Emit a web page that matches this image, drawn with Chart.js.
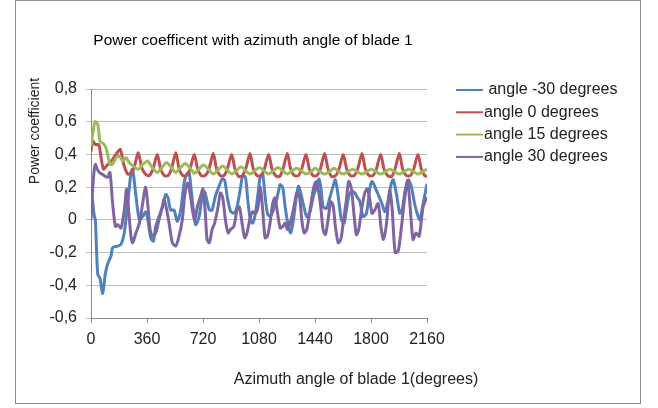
<!DOCTYPE html>
<html>
<head>
<meta charset="utf-8">
<script src="https://cdn.jsdelivr.net/npm/chart.js@4/dist/chart.umd.min.js"></script>
<style>
  body { margin: 0; background: #fff; }
  canvas { display: block; }
</style>
</head>
<body>
<canvas id="chart" width="658" height="408"></canvas>
<script>
const chartTitle = "Power coefficent with azimuth angle of blade 1";
const xTitle = "Azimuth angle of blade 1(degrees)";
const yTitle = "Power coefficient";

const seriesNames = [" angle -30 degrees", "angle 0 degrees", "angle 15 degrees", "angle 30 degrees"];
const seriesColors = ["#4f81bd", "#c0504d", "#9bbb59", "#8064a2"];

const xTicks = [0, 360, 720, 1080, 1440, 1800, 2160];
const yTicks = [-0.6, -0.4, -0.2, 0, 0.2, 0.4, 0.6, 0.8];

const blueAngle = [0,10,20,28,43,58,75,92,107,129,139,172,193,214,236,257,268,289,311,332,350,362,384,401,416,437,459,480,495,512,534,555,577,594,609,630,641,658,673,695,716,731,746,761,778,800,821,843,860,875,896,918,939,960,975,993,1010,1025,1040,1057,1074,1089,1104,1119,1134,1151,1173,1194,1216,1233,1248,1269,1284,1301,1318,1333,1348,1366,1387,1408,1430,1451,1466,1480,1492,1514,1535,1556,1571,1589,1610,1627,1642,1657,1674,1696,1713,1728,1749,1771,1792,1807,1824,1846,1870,1890,1910,1930,1944,1965,1985,2000,2020,2040,2060,2080,2100,2115,2135,2160];
const bluePower = [0.17,0.12,0.03,0.0,-0.33,-0.36,-0.45,-0.33,-0.27,-0.22,-0.17,-0.16,-0.15,-0.08,0.10,0.29,0.31,0.145,0.0,0.02,0.05,0.02,-0.11,-0.13,-0.04,0.02,0.08,0.155,0.135,0.06,0.06,-0.01,0.06,0.195,0.27,0.29,0.21,0.06,-0.03,0.02,0.15,0.17,0.115,0.06,0.06,0.145,0.2,0.25,0.24,0.145,0.055,0.04,0.08,0.19,0.27,0.26,0.1,0.0,-0.02,0.04,0.165,0.27,0.28,0.145,0.04,0.02,0.06,0.125,0.215,0.195,0.08,-0.04,-0.08,0.0,0.125,0.205,0.165,0.09,0.02,0.05,0.145,0.205,0.25,0.18,0.08,0.07,0.135,0.205,0.245,0.145,0.0,-0.02,0.06,0.145,0.175,0.165,0.135,0.115,0.02,0.04,0.19,0.235,0.205,0.155,0.1,0.05,0.12,0.22,0.245,0.15,0.04,0.06,0.18,0.245,0.2,0.1,0.03,0.0,0.1,0.22];

const redAngle = [0,12,30,50,65,80,100,130,160,188,210,236,262,280,304,326,349,374,398,
  426,448,471,495,517, 545,567,590,614,636, 664,686,709,734,758, 786,808,831,854,876,
  904,926,949,972,994, 1022,1044,1067,1092,1114, 1142,1164,1187,1212,1234, 1262,1284,1307,1332,1354,
  1382,1404,1427,1452,1474, 1502,1524,1547,1572,1594, 1622,1644,1667,1692,1714, 1742,1764,1787,1812,1834,
  1862,1884,1907,1932,1954, 1982,2004,2027,2052,2074, 2102,2124,2145,2160];
const redPower = [0.42,0.48,0.46,0.46,0.38,0.31,0.33,0.36,0.40,0.43,0.34,0.28,0.29,0.33,0.41,0.32,0.28,0.27,0.31,
  0.40,0.31,0.27,0.27,0.31, 0.41,0.31,0.27,0.27,0.31, 0.40,0.31,0.27,0.27,0.31, 0.405,0.31,0.27,0.27,0.31,
  0.40,0.31,0.265,0.27,0.31, 0.405,0.31,0.27,0.27,0.31, 0.40,0.31,0.27,0.265,0.31, 0.405,0.31,0.27,0.27,0.31,
  0.40,0.31,0.27,0.27,0.31, 0.405,0.31,0.265,0.27,0.31, 0.40,0.31,0.27,0.27,0.31, 0.405,0.31,0.27,0.27,0.31,
  0.40,0.31,0.27,0.265,0.31, 0.405,0.31,0.27,0.27,0.31, 0.40,0.31,0.27,0.265];

const greenAngle = [0,10,26,43,58,75,92,107,122,139,161,182,204,225,246,270,304,334,364,394,
  426,456,486,516, 545,575,605,635, 664,694,724,754, 786,816,846,876, 904,934,964,994,
  1022,1052,1082,1112, 1142,1172,1202,1232, 1262,1292,1322,1352, 1382,1412,1442,1472,
  1502,1532,1562,1592, 1622,1652,1682,1712, 1742,1772,1802,1832, 1862,1892,1922,1952,
  1982,2012,2042,2072, 2102,2132,2160];
const greenPower = [0.45,0.52,0.60,0.585,0.48,0.47,0.45,0.40,0.34,0.34,0.38,0.39,0.36,0.38,0.35,0.33,0.31,0.34,0.36,0.32,
  0.29,0.32,0.35,0.32, 0.29,0.32,0.345,0.32, 0.285,0.31,0.335,0.31, 0.28,0.305,0.33,0.305, 0.28,0.30,0.325,0.30,
  0.28,0.30,0.32,0.30, 0.28,0.30,0.32,0.30, 0.28,0.30,0.315,0.30, 0.28,0.295,0.315,0.295,
  0.28,0.295,0.315,0.295, 0.28,0.295,0.31,0.295, 0.28,0.295,0.31,0.295, 0.28,0.295,0.31,0.295,
  0.28,0.295,0.31,0.295, 0.28,0.295,0.31];

const purpleAngle = [0,8,20,28,40,54,70,86,107,122,139,157,172,193,214,229,242,257,268,289,311,332,350,362,380,395,416,437,459,470,487,502,523,545,566,587,602,620,637,652,667,684,705,720,735,746,761,778,795,817,832,847,864,881,896,918,939,954,971,988,1003,1025,1040,1057,1074,1089,1104,1119,1134,1151,1168,1183,1198,1216,1233,1248,1263,1280,1301,1323,1340,1355,1370,1387,1408,1430,1447,1462,1477,1492,1507,1524,1541,1556,1571,1589,1606,1621,1642,1657,1674,1692,1706,1721,1739,1760,1777,1792,1807,1824,1846,1865,1880,1900,1920,1935,1955,1975,1995,2015,2035,2050,2070,2090,2110,2135,2160];
const purplePower = [0.0,0.15,0.3,0.34,0.31,0.29,0.28,0.27,0.26,0.29,0.10,-0.04,-0.03,-0.05,0.06,0.19,0.06,-0.10,-0.14,-0.08,-0.02,0.10,0.2,0.125,-0.06,-0.10,-0.08,0.0,0.08,0.125,0.06,-0.02,-0.14,-0.16,-0.10,0.0,0.145,0.225,0.165,0.06,0.0,0.08,0.145,0.19,0.04,-0.12,-0.14,-0.06,-0.02,0.08,0.165,0.135,0.0,-0.08,-0.06,-0.04,0.06,0.08,-0.02,-0.11,-0.08,0.02,0.05,0.04,0.08,0.2,0.06,-0.11,-0.10,-0.02,0.1,0.135,0.05,-0.05,-0.04,-0.02,-0.06,-0.02,0.06,0.165,0.145,0.0,-0.08,-0.06,0.06,0.19,0.235,0.18,0.08,-0.06,-0.09,0.0,0.11,0.09,-0.04,-0.14,-0.12,-0.02,0.125,0.235,0.19,0.02,-0.09,-0.06,0.06,0.165,0.19,0.125,0.04,0.06,0.1,-0.05,-0.12,-0.02,0.18,0.08,-0.2,-0.19,-0.05,0.12,0.24,0.1,-0.12,-0.08,-0.1,0.08,0.14];

const FONT = '"Liberation Sans", Arial, sans-serif';
const TEXT = "#222";

function points(xs, ys) {
  return xs.map((x, i) => ({ x: x, y: ys[i] }));
}

function line(i, xs, ys) {
  return {
    label: seriesNames[i],
    data: points(xs, ys),
    borderColor: seriesColors[i],
    backgroundColor: seriesColors[i],
    borderWidth: 3,
    pointRadius: 0,
    tension: 0.25,
    fill: false,
    order: 3 - i, // later series on top, like the original
  };
}

// titles, legend and frame
const decorations = {
  id: "decorations",
  afterDraw(chart) {
    const ctx = chart.ctx;
    const area = chart.chartArea;
    ctx.save();

    ctx.strokeStyle = "#8c8c8c";
    ctx.lineWidth = 1;
    ctx.strokeRect(15.5, 0.5, 625, 403);

    ctx.fillStyle = "#000";
    ctx.textAlign = "center";
    ctx.textBaseline = "middle";
    ctx.font = "15.5px " + FONT;
    ctx.fillText(chartTitle, area.left + 162, 41);

    ctx.fillStyle = TEXT;
    ctx.font = "16px " + FONT;
    ctx.fillText(xTitle, area.left + 265, 380);

    ctx.save();
    ctx.translate(35, 131);
    ctx.rotate(-Math.PI / 2);
    ctx.font = "14px " + FONT;
    ctx.fillText(yTitle, 0, 0);
    ctx.restore();

    // legend
    ctx.textAlign = "left";
    ctx.font = "16px " + FONT;
    chart.data.datasets.forEach((ds, i) => {
      const y = 90 + i * 22.3;
      ctx.strokeStyle = ds.borderColor;
      ctx.lineWidth = 2;
      ctx.beginPath();
      ctx.moveTo(456, y);
      ctx.lineTo(483, y);
      ctx.stroke();
      ctx.fillStyle = TEXT;
      ctx.fillText(ds.label, 484, y);
    });

    ctx.restore();
  },
};

new Chart(document.getElementById("chart"), {
  type: "line",
  data: {
    datasets: [
      line(0, blueAngle, bluePower),
      line(1, redAngle, redPower),
      line(2, greenAngle, greenPower),
      line(3, purpleAngle, purplePower),
    ],
  },
  options: {
    responsive: false,
    animation: false,
    layout: { padding: { left: 0, top: 89, right: 231, bottom: 0 } },
    scales: {
      x: {
        type: "linear",
        min: 0,
        max: 2160,
        afterBuildTicks: (scale) => { scale.ticks = xTicks.map((v) => ({ value: v })); },
        afterFit: (scale) => { scale.height = 90; },
        ticks: {
          color: TEXT,
          font: { family: FONT, size: 16 },
          padding: 7,
          maxRotation: 0,
          autoSkip: false,
          callback: (v) => String(v),
        },
        grid: { drawOnChartArea: false, tickLength: 5, color: "#878787" },
        border: { color: "#878787" },
      },
      y: {
        min: -0.6,
        max: 0.8,
        afterBuildTicks: (scale) => { scale.ticks = yTicks.map((v) => ({ value: v })); },
        afterFit: (scale) => { scale.width = 91; },
        ticks: {
          color: TEXT,
          font: { family: FONT, size: 16 },
          padding: 9,
          autoSkip: false,
          callback: (v) => String(Math.round(v * 10) / 10).replace(".", ","),
        },
        grid: { tickLength: 5, color: "#bdbdbd" },
        border: { color: "#878787" },
      },
    },
    plugins: {
      legend: { display: false },
      tooltip: { enabled: false },
    },
  },
  plugins: [decorations],
});
</script>
</body>
</html>
